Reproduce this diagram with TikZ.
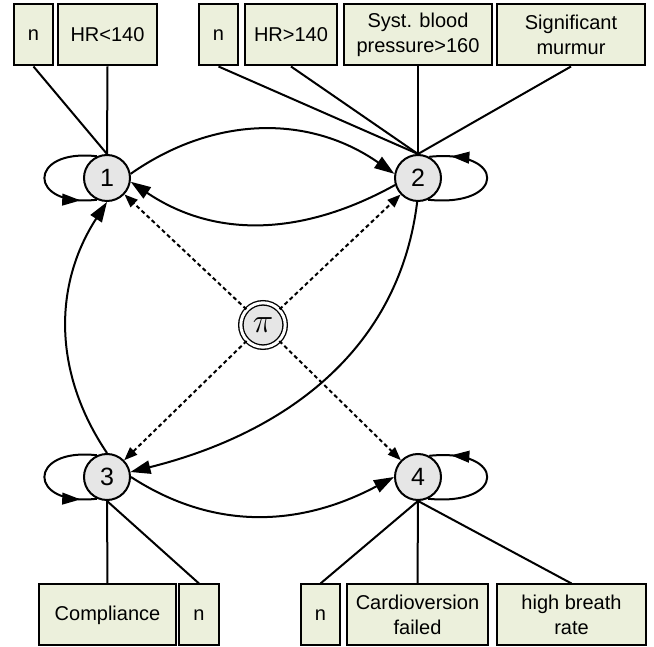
\documentclass[tikz,border=0pt]{standalone}
\usepackage{fontspec}
\setmainfont{Liberation Sans}
\usetikzlibrary{arrows.meta, decorations.markings}

\definecolor{boxfill}{RGB}{236,240,220}
\definecolor{statefill}{RGB}{230,230,230}

\begin{document}
\begin{tikzpicture}[
  x=0.6pt, y=0.6pt,
  state/.style={circle, draw, line width=1.2pt, fill=statefill, minimum size=27.6pt, inner sep=0pt, font=\fontsize{15}{15}\selectfont},
  prior/.style={circle, draw, double, double distance=1.8pt, line width=0.8pt, fill=statefill, minimum size=26.6pt, inner sep=0pt, font=\fontsize{22}{22}\selectfont},
  obs/.style={draw, line width=1.2pt, fill=boxfill, minimum height=36.6pt, inner sep=1pt, align=center, font=\fontsize{12}{15}\selectfont},
  link/.style={line width=1.2pt},
  trans/.style={line width=1.2pt, -{Triangle[length=12pt, width=8pt]}},
  init/.style={line width=1.2pt, dash pattern=on 2.4pt off 1.8pt, -{Triangle[length=8pt, width=6pt]}},
  selfloop/.style={line width=1.2pt, postaction={decorate},
    decoration={markings, mark=at position #1 with {\arrow{Triangle[length=11pt, width=7pt]}}}}
]
  \useasboundingbox (0,0) rectangle (654,-647);

  % hidden states and prior
  \node[state] (n1) at (107,-178) {1};
  \node[state] (n2) at (418,-178) {2};
  \node[state] (n3) at (107,-477) {3};
  \node[state] (n4) at (418,-477) {4};
  \node[prior] (pi) at (263,-325) {$\pi$};

  % observations, top row
  \node[obs, minimum width=23.4pt] (t1) at (33.5,-35) {n};
  \node[obs, minimum width=59.4pt] (hrlow) at (107.5,-35) {HR<140};
  \node[obs, minimum width=23.4pt] (t2) at (218.5,-35) {n};
  \node[obs, minimum width=55.2pt] (hrhigh) at (291,-35) {HR>140};
  \node[obs, minimum width=88.8pt] (syst) at (418,-35) {Syst. blood\\pressure>160};
  \node[obs, minimum width=88.8pt] (murmur) at (571,-35) {Significant\\murmur};

  % observations, bottom row
  \node[obs, minimum width=82.2pt] (compl) at (107.5,-615) {Compliance};
  \node[obs, minimum width=24pt] (b3) at (199,-615) {n};
  \node[obs, minimum width=23.4pt] (b4) at (320.5,-615) {n};
  \node[obs, minimum width=84.6pt] (cardio) at (417.5,-615) {Cardioversion\\failed};
  \node[obs, minimum width=89.4pt] (breath) at (571.5,-615) {high breath\\rate};

  \draw[link] (t1.south) -- (n1.north);
  \draw[link] (hrlow.south) -- (n1.north);
  \draw[link] (t2.south) -- (n2.north);
  \draw[link] (hrhigh.south) -- (n2.north);
  \draw[link] (syst.south) -- (n2.north);
  \draw[link] (murmur.south) -- (n2.north);
  \draw[link] (n3.south) -- (compl.north);
  \draw[link] (n3.south) -- (b3.north);
  \draw[link] (n4.south) -- (b4.north);
  \draw[link] (n4.south) -- (cardio.north);
  \draw[link] (n4.south) -- (breath.north);

  % self transitions
  \draw[selfloop=0.87] (n1.115) .. controls +(-70,8) and +(-70,-8) .. (n1.245);
  \draw[selfloop=0.87] (n3.115) .. controls +(-70,8) and +(-70,-8) .. (n3.245);
  \draw[selfloop=0.84] (n2.-65) .. controls +(78,-8) and +(78,8) .. (n2.62);
  \draw[selfloop=0.84] (n4.-65) .. controls +(78,-8) and +(78,8) .. (n4.62);

  % transitions
  \draw[trans] (n1.10) to[out=35, in=145] (n2.170);
  \draw[trans] (n2.197) to[out=209, in=-34] (n1.351);
  \draw[trans] (n3.90) to[out=124, in=237] (n1.270);
  \draw[trans] (n2.268) to[out=-97, in=14] (n3.12);
  \draw[trans] (n3.0) to[out=-33, in=208] (n4.180);

  % initial distribution
  \draw[init] (pi) -- (n1);
  \draw[init] (pi) -- (n2);
  \draw[init] (pi) -- (n3);
  \draw[init] (pi) -- (n4);
\end{tikzpicture}
\end{document}
